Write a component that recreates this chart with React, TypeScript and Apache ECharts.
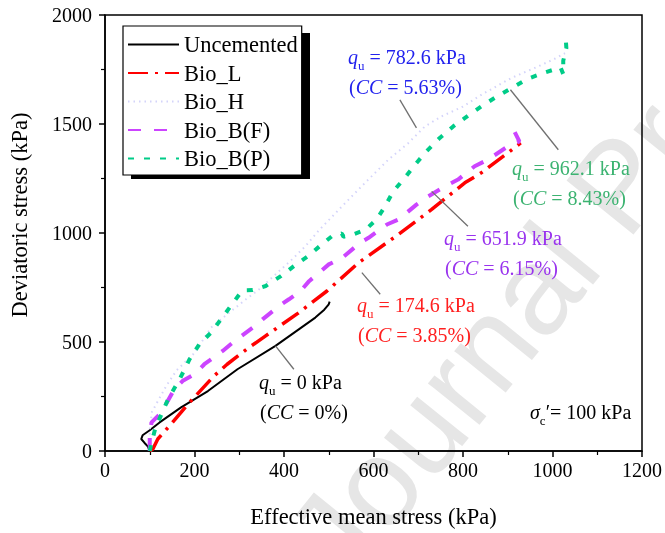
import React, { useEffect, useRef } from 'react';
import * as echarts from 'echarts';

const seriesNames = ['Uncemented', 'Bio_L', 'Bio_H', 'Bio_B(F)', 'Bio_B(P)'];

const uncemented = [[100,0],[96,20],[88,38],[81,55],[84,72],[100,95],[122,131],[170,200],[230,275],[296,375],[381,482],[433,558],[470,612],[490,648],[500,673],[502,685]];
const bioL = [[100,0],[107,9],[118,55],[148,124],[189,223],[244,345],[273,398],[322,475],[359,528],[430,630],[496,734],[567,864],[650,985],[730,1108],[804,1230],[840,1275],[900,1367],[929,1413]];
const bioH = [[100,0],[100,100],[105,180],[137,299],[160,370],[200,450],[237,566],[278,635],[315,696],[344,741],[381,810],[418,879],[448,940],[478,1012],[530,1123],[581,1230],[633,1336],[678,1413],[715,1489],[752,1535],[800,1580],[841,1634],[907,1710],[959,1756],[1000,1794],[1028,1825]];
const bioBF = [[100,0],[100,65],[104,131],[126,177],[155,284],[174,322],[200,352],[222,398],[263,459],[285,497],[330,566],[352,604],[389,665],[411,696],[437,734],[456,779],[500,856],[530,886],[570,955],[589,978],[630,1039],[656,1062],[696,1130],[722,1168],[767,1222],[789,1245],[826,1306],[856,1337],[900,1397],[926,1420],[915,1466],[907,1485]];
const bioBP = [[100,0],[103,30],[111,93],[115,116],[141,238],[167,330],[189,421],[211,490],[237,543],[262,612],[285,676],[307,737],[330,738],[359,757],[393,802],[422,848],[456,897],[480,940],[507,985],[529,998],[533,983],[555,994],[582,1015],[607,1062],[626,1123],[644,1191],[670,1253],[696,1321],[718,1374],[748,1436],[778,1489],[811,1538],[844,1585],[878,1629],[911,1668],[944,1707],[982,1736],[1018,1759],[1024,1729],[1024,1790],[1031,1848],[1030,1877]];

const xTicks = { min: 0, max: 1200, interval: 200 };
const yTicks = { min: 0, max: 2000, interval: 500 };

// callout lines in data coordinates
const calloutFrom = [[381,482],[574,818],[730,1191],[659,1611],[906,1657]];
const calloutTo = [[422,375],[615,719],[811,1031],[696,1482],[1013,1382]];

const annValues = ['0', '174.6', '651.9', '782.6', '962.1'];
const annCC = ['0%', '3.85%', '6.15%', '5.63%', '8.43%'];
const annColors = ['#000000', '#ff2020', '#9933ee', '#2222ee', '#3cb371'];
const annPos = [[259,382],[357,305],[444,238],[348,57],[512,168]];

const FONT = "'Liberation Serif', 'Times New Roman', serif";

export default function App() {
  const ref = useRef<HTMLDivElement>(null);
  useEffect(() => {
    const chart = echarts.init(ref.current!, null, { renderer: 'svg' });
    const mk = (name: string, data: number[][], color: string, width: number, type: any) => ({
      name, type: 'line', data, showSymbol: false, symbol: 'none',
      lineStyle: { color, width, type, cap: 'butt' }, itemStyle: { color }, z: 3,
    });
    chart.setOption({
      animation: false,
      textStyle: { fontFamily: FONT, color: '#000' },
      grid: { left: 105, right: 20, top: 15, bottom: 81, show: true, borderColor: '#000', borderWidth: 1.5 },
      legend: {
        orient: 'vertical', left: 123, top: 26, padding: [7, 4, 5, 4],
        itemWidth: 51, itemHeight: 14, itemGap: 5.5,
        backgroundColor: '#fff', borderColor: '#000', borderWidth: 1.2,
        itemStyle: { opacity: 0 },
        textStyle: { fontFamily: FONT, fontSize: 22.5, color: '#000', lineHeight: 22.5 },
        data: seriesNames, z: 6,
      },
      xAxis: {
        type: 'value', ...xTicks, name: 'Effective mean stress (kPa)', nameLocation: 'middle', nameGap: 54,
        nameTextStyle: { fontFamily: FONT, fontSize: 22.5, color: '#000' },
        axisLine: { show: true, lineStyle: { color: '#000', width: 1.5 } },
        axisTick: { show: true, length: 6, lineStyle: { color: '#000', width: 1.5 } },
        minorTick: { show: true, splitNumber: 2, length: 4, lineStyle: { color: '#000', width: 1.2 } },
        axisLabel: { fontFamily: FONT, fontSize: 20, color: '#000', margin: 9, formatter: (v: number) => String(v) },
        splitLine: { show: false },
      },
      yAxis: {
        type: 'value', ...yTicks, name: 'Deviatoric stress (kPa)', nameLocation: 'middle', nameGap: 74,
        nameTextStyle: { fontFamily: FONT, fontSize: 22.5, color: '#000', padding: [0, 0, 0, 36] },
        axisLine: { show: true, lineStyle: { color: '#000', width: 1.5 } },
        axisTick: { show: true, length: 6, lineStyle: { color: '#000', width: 1.5 } },
        minorTick: { show: true, splitNumber: 2, length: 4, lineStyle: { color: '#000', width: 1.2 } },
        axisLabel: { fontFamily: FONT, fontSize: 20, color: '#000', margin: 13, formatter: (v: number) => String(v) },
        splitLine: { show: false },
      },
      series: [
        mk(seriesNames[0], uncemented, '#000000', 2, 'solid'),
        mk(seriesNames[1], bioL, '#ff0000', 3.5, [20, 7, 3, 7]),
        mk(seriesNames[2], bioH, '#d4d4fa', 2, [1.5, 4]),
        mk(seriesNames[3], bioBF, '#cc44ff', 4, [13, 13]),
        mk(seriesNames[4], bioBP, '#00cc88', 4, [6, 10]),
      ],
    });

    const gfx: any[] = [];
    gfx.push({
      type: 'text', x: 362, y: 600, rotation: 0.89, z: -10, silent: true,
      style: { text: 'Journal Pre-proof', font: '125px "Liberation Sans"', fill: '#e6e6e6', align: 'left', verticalAlign: 'bottom' },
    });
    gfx.push({ type: 'rect', shape: { x: 131, y: 33, width: 179, height: 146 }, style: { fill: '#000' }, z: 5 });
    calloutFrom.forEach((f, i) => {
      const a = chart.convertToPixel({ gridIndex: 0 }, f) as number[];
      const b = chart.convertToPixel({ gridIndex: 0 }, calloutTo[i]) as number[];
      gfx.push({ type: 'line', shape: { x1: a[0], y1: a[1], x2: b[0], y2: b[1] }, style: { stroke: '#707070', lineWidth: 1.3 }, z: 10 });
    });
    annValues.forEach((v, i) => {
      const c = annColors[i];
      const base = { fill: c, fontFamily: FONT, fontSize: 20, verticalAlign: 'middle' };
      gfx.push({
        type: 'text', x: annPos[i][0], y: annPos[i][1], z: 10,
        style: {
          text: `{q|q}{u|u}{n| = ${v} kPa}`, align: 'left', verticalAlign: 'middle',
          rich: {
            q: { ...base, fontStyle: 'italic' },
            u: { ...base, fontSize: 13, padding: [16, 0, 0, 0] },
            n: { ...base },
          },
        },
      });
      gfx.push({
        type: 'text', x: annPos[i][0] + 1, y: annPos[i][1] + 30, z: 10,
        style: {
          text: `{n|(}{i|CC}{n| = ${annCC[i]})}`, align: 'left', verticalAlign: 'middle',
          rich: { n: { ...base }, i: { ...base, fontStyle: 'italic' } },
        },
      });
    });
    const sb = { fill: '#000', fontFamily: FONT, fontSize: 20, verticalAlign: 'middle' };
    gfx.push({
      type: 'text', x: 530, y: 412, z: 10,
      style: {
        text: '{s|σ}{c|c}{n|′= 100 kPa}', align: 'left', verticalAlign: 'middle',
        rich: { s: { ...sb, fontStyle: 'italic' }, c: { ...sb, fontSize: 13, padding: [16, 0, 0, 0] }, n: { ...sb } },
      },
    });
    chart.setOption({ graphic: gfx });
    return () => chart.dispose();
  }, []);
  return <div ref={ref} style={{ position: 'fixed', left: 0, top: 0, width: 665, height: 533 }} />;
}
